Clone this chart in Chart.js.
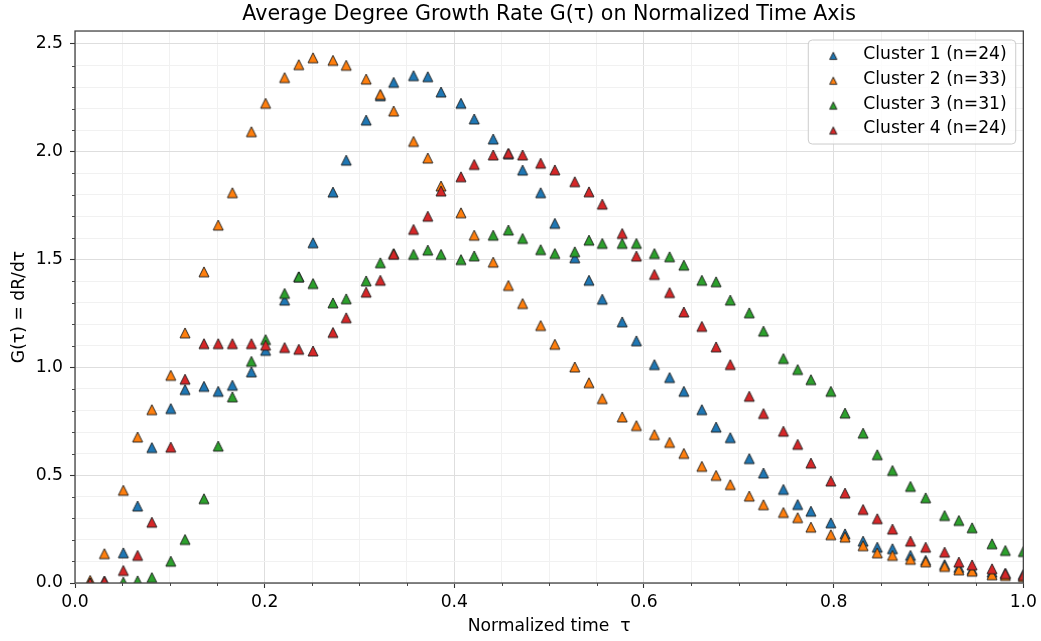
<!DOCTYPE html>
<html>
<head>
<meta charset="utf-8">
<script src="https://cdn.jsdelivr.net/npm/chart.js@4.4.1/dist/chart.umd.min.js"></script>
<style>
  html, body { margin: 0; padding: 0; background: #fff; }
  #wrap { width: 1041px; height: 641px; }
</style>
</head>
<body>
<div id="wrap"><canvas id="growthChart" width="1041" height="641"></canvas></div>
<script>
// normalized time positions shared by all clusters
const tau = [0.016, 0.031, 0.051, 0.066, 0.081, 0.101, 0.116, 0.136, 0.151, 0.166,
  0.186, 0.201, 0.221, 0.236, 0.251, 0.272, 0.286, 0.307, 0.322, 0.336,
  0.357, 0.372, 0.386, 0.407, 0.421, 0.441, 0.457, 0.472, 0.491, 0.506,
  0.527, 0.542, 0.556, 0.577, 0.592, 0.611, 0.627, 0.642, 0.661, 0.676,
  0.691, 0.711, 0.726, 0.747, 0.762, 0.776, 0.797, 0.812, 0.831, 0.846,
  0.862, 0.881, 0.897, 0.917, 0.932, 0.946, 0.967, 0.981, 1.0];

const cluster1 = [0.005, 0.008, 0.14, 0.357, 0.628, 0.809, 0.897, 0.912, 0.889, 0.917,
  0.979, 1.079, 1.312, 1.42, 1.578, 1.813, 1.961, 2.147, 2.26, 2.322,
  2.353, 2.348, 2.277, 2.225, 2.152, 2.059, 1.99, 1.915, 1.81, 1.668,
  1.508, 1.404, 1.316, 1.211, 1.123, 1.013, 0.953, 0.889, 0.804, 0.723,
  0.674, 0.577, 0.51, 0.434, 0.364, 0.333, 0.279, 0.228, 0.194, 0.166,
  0.159, 0.128, 0.105, 0.085, 0.072, 0.062, 0.05, 0.045, 0.04];

const cluster2 = [0.012, 0.136, 0.43, 0.677, 0.804, 0.963, 1.16, 1.443, 1.66, 1.81,
  2.093, 2.225, 2.344, 2.404, 2.436, 2.424, 2.401, 2.337, 2.266, 2.189,
  2.048, 1.971, 1.841, 1.717, 1.613, 1.488, 1.38, 1.296, 1.194, 1.107,
  1.002, 0.929, 0.855, 0.77, 0.73, 0.688, 0.652, 0.601, 0.541, 0.499,
  0.456, 0.403, 0.363, 0.327, 0.303, 0.259, 0.224, 0.213, 0.173, 0.14,
  0.128, 0.11, 0.098, 0.077, 0.061, 0.055, 0.038, 0.035, 0.03];

const cluster3 = [0.0, 0.0, 0.004, 0.01, 0.025, 0.101, 0.202, 0.391, 0.635, 0.863,
  1.028, 1.129, 1.343, 1.42, 1.389, 1.299, 1.318, 1.401, 1.485, 1.528,
  1.524, 1.544, 1.524, 1.5, 1.517, 1.613, 1.637, 1.598, 1.546, 1.528,
  1.536, 1.59, 1.575, 1.575, 1.575, 1.528, 1.513, 1.474, 1.404, 1.397,
  1.312, 1.253, 1.168, 1.041, 0.99, 0.943, 0.889, 0.788, 0.695, 0.595,
  0.522, 0.448, 0.395, 0.313, 0.29, 0.256, 0.182, 0.151, 0.146];

const cluster4 = [0.0, 0.008, 0.058, 0.128, 0.282, 0.63, 0.945, 1.11, 1.11, 1.11,
  1.11, 1.103, 1.092, 1.084, 1.076, 1.162, 1.23, 1.349, 1.404, 1.525,
  1.64, 1.701, 1.818, 1.884, 1.941, 1.985, 1.993, 1.985, 1.947, 1.916,
  1.861, 1.814, 1.757, 1.621, 1.516, 1.431, 1.347, 1.257, 1.19, 1.095,
  1.013, 0.866, 0.786, 0.704, 0.643, 0.556, 0.473, 0.417, 0.341, 0.298,
  0.25, 0.194, 0.166, 0.143, 0.097, 0.084, 0.066, 0.043, 0.035];

const seriesLabels = ["Cluster 1 (n=24)", "Cluster 2 (n=33)", "Cluster 3 (n=31)", "Cluster 4 (n=24)"];
const seriesColors = ["#1f77b4", "#ff7f0e", "#2ca02c", "#d62728"];
const seriesValues = [cluster1, cluster2, cluster3, cluster4];

const FONT = "'DejaVu Sans', sans-serif";
const TEXT_SIZE = 17.2;

const onStep = (v, step) => Math.abs(v / step - Math.round(v / step)) < 1e-6;

// matplotlib-like "^" marker, centred at mid height
const makeTriangle = (color, half) => {
  const c = document.createElement("canvas");
  const size = Math.ceil(half * 2 + 4);
  c.width = size;
  c.height = size;
  const g = c.getContext("2d");
  const m = size / 2;
  g.beginPath();
  g.moveTo(m, m - half);
  g.lineTo(m - half, m + half);
  g.lineTo(m + half, m + half);
  g.closePath();
  g.fillStyle = color;
  g.fill();
  g.lineWidth = 0.9;
  g.strokeStyle = "#1a1a1a";
  g.stroke();
  return c;
};

const datasets = seriesValues.map((vals, i) => ({
  label: seriesLabels[i],
  data: vals.map((y, k) => ({ x: tau[k], y: y })),
  pointStyle: makeTriangle(seriesColors[i], 5),
  pointRadius: 6,
  showLine: false,
  clip: 0,
  order: seriesValues.length - i,
}));

const legendMarkers = seriesColors.map((c) => makeTriangle(c, 3.6));

const extrasPlugin = {
  id: "extras",
  afterDraw(chart) {
    const { ctx, chartArea: a, scales } = chart;
    ctx.save();

    // minor tick marks
    ctx.strokeStyle = "#333";
    ctx.lineWidth = 0.9;
    ctx.beginPath();
    for (let k = 1; k < 20; k++) {
      const v = k * 0.05;
      if (onStep(v, 0.2)) continue;
      const px = Math.round(scales.x.getPixelForValue(v)) + 0.5;
      ctx.moveTo(px, a.bottom);
      ctx.lineTo(px, a.bottom + 3);
    }
    for (let k = 1; k <= 25; k++) {
      const v = k * 0.1;
      if (onStep(v, 0.5)) continue;
      const py = Math.round(scales.y.getPixelForValue(v)) + 0.5;
      ctx.moveTo(a.left - 3, py);
      ctx.lineTo(a.left, py);
    }
    ctx.stroke();

    // frame
    ctx.strokeStyle = "#444";
    ctx.lineWidth = 1.3;
    ctx.strokeRect(a.left, a.top, a.right - a.left, a.bottom - a.top);

    // legend box
    ctx.font = TEXT_SIZE + "px " + FONT;
    const textW = Math.max(...seriesLabels.map((t) => ctx.measureText(t).width));
    const boxW = 55 + textW + 9;
    const boxH = 104;
    const bx = a.right - 7.6 - boxW;
    const by = a.top + 9;
    const r = 4;
    ctx.beginPath();
    ctx.moveTo(bx + r, by);
    ctx.arcTo(bx + boxW, by, bx + boxW, by + boxH, r);
    ctx.arcTo(bx + boxW, by + boxH, bx, by + boxH, r);
    ctx.arcTo(bx, by + boxH, bx, by, r);
    ctx.arcTo(bx, by, bx + boxW, by, r);
    ctx.closePath();
    ctx.fillStyle = "rgba(255,255,255,0.8)";
    ctx.fill();
    ctx.strokeStyle = "#cccccc";
    ctx.lineWidth = 1;
    ctx.stroke();

    ctx.fillStyle = "#000";
    ctx.textBaseline = "middle";
    ctx.textAlign = "left";
    seriesLabels.forEach((t, i) => {
      const rowY = by + 14.3 + i * 24.9;
      const mk = legendMarkers[i];
      ctx.drawImage(mk, bx + 25 - mk.width / 2, rowY + 1.5 - mk.height / 2);
      ctx.fillText(t, bx + 55, rowY);
    });

    ctx.restore();
  },
};

new Chart(document.getElementById("growthChart"), {
  type: "scatter",
  data: { datasets: datasets },
  plugins: [extrasPlugin],
  options: {
    responsive: false,
    animation: false,
    devicePixelRatio: 1,
    layout: { padding: { left: 0, right: 16.7, top: 0, bottom: 0 } },
    plugins: {
      legend: { display: false },
      tooltip: { enabled: false },
      title: {
        display: true,
        text: "Average Degree Growth Rate G(τ) on Normalized Time Axis",
        fullSize: false,
        color: "#000",
        font: { family: FONT, size: 20.6, weight: "normal" },
        padding: { top: 2, bottom: 4.3 },
      },
    },
    scales: {
      x: {
        type: "linear",
        min: 0,
        max: 1,
        afterFit: (scale) => {
          scale.height = 58;
        },
        ticks: {
          stepSize: 0.05,
          autoSkip: false,
          includeBounds: false,
          maxRotation: 0,
          padding: 4,
          color: "#000",
          font: { family: FONT, size: TEXT_SIZE },
          callback: (v) => (onStep(v, 0.2) ? v.toFixed(1) : ""),
        },
        grid: {
          color: (c) => (c.tick && onStep(c.tick.value, 0.2) ? "#dedede" : "#f1f1f1"),
          lineWidth: 1,
          tickLength: 5,
          tickWidth: 1.1,
          tickColor: (c) => (c.tick && onStep(c.tick.value, 0.2) ? "#333" : "rgba(0,0,0,0)"),
        },
        border: { display: false },
        title: {
          display: true,
          text: "Normalized time  τ",
          color: "#000",
          font: { family: FONT, size: TEXT_SIZE },
          padding: { top: 0, bottom: 3.7 },
        },
      },
      y: {
        type: "linear",
        min: 0,
        max: 2.56,
        afterFit: (scale) => {
          scale.width = 75;
        },
        ticks: {
          stepSize: 0.1,
          autoSkip: false,
          includeBounds: false,
          padding: 7,
          color: "#000",
          font: { family: FONT, size: TEXT_SIZE },
          callback: (v) => (onStep(v, 0.5) ? v.toFixed(1) : ""),
        },
        grid: {
          color: (c) => (c.tick && onStep(c.tick.value, 0.5) ? "#dedede" : "#f1f1f1"),
          lineWidth: 1,
          tickLength: 5,
          tickWidth: 1.1,
          tickColor: (c) => (c.tick && onStep(c.tick.value, 0.5) ? "#333" : "rgba(0,0,0,0)"),
        },
        border: { display: false },
        title: {
          display: true,
          text: "G(τ) = dR/dτ",
          color: "#000",
          font: { family: FONT, size: TEXT_SIZE },
          padding: { top: 9.3, bottom: 0 },
        },
      },
    },
  },
});
</script>
</body>
</html>
